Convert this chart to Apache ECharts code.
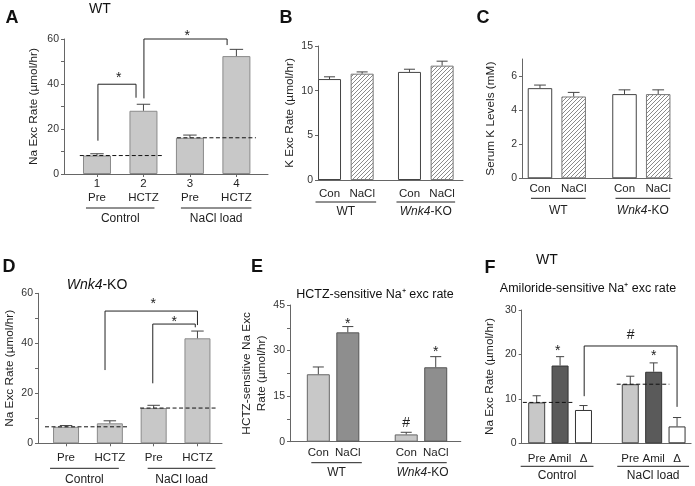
<!DOCTYPE html>
<html>
<head>
<meta charset="utf-8">
<script src="https://cdn.jsdelivr.net/npm/echarts@6.0.0/dist/echarts.min.js"></script>
<style>
  html, body { margin: 0; padding: 0; background: #fff; }
  #chart { width: 695px; height: 486px; }
</style>
</head>
<body>
<div id="chart"></div>
<script>
// A: WT, Na excretion
const aLabels = ['1\nPre', '2\nHCTZ', '3\nPre', '4\nHCTZ']
const aMean = [8.2, 28.1, 16.1, 52.4]
const aErr = [0.8, 2.9, 1.2, 3.0]
const aTicks = [0, 20, 40, 60]
// B: K excretion
const bLabels = ['Con', 'NaCl', 'Con', 'NaCl']
const bMean = [11.3, 11.9, 12.1, 12.8]
const bErr = [0.25, 0.2, 0.3, 0.5]
const bTicks = [0, 5, 10, 15]
// C: serum K
const cLabels = ['Con', 'NaCl', 'Con', 'NaCl']
const cMean = [5.29, 4.8, 4.94, 4.94]
const cErr = [0.18, 0.24, 0.25, 0.25]
const cTicks = [0, 2, 4, 6]
// D: Wnk4-KO, Na excretion
const dLabels = ['Pre', 'HCTZ', 'Pre', 'HCTZ']
const dMean = [6.6, 8.0, 14.1, 42.0]
const dErr = [0.5, 1.0, 1.1, 2.9]
const dTicks = [0, 20, 40, 60]
// E: HCTZ-sensitive
const eLabels = ['Con', 'NaCl', 'Con', 'NaCl']
const eMean = [22.2, 36.0, 2.4, 24.5]
const eErr = [2.4, 1.9, 0.7, 3.5]
const eTicks = [0, 15, 30, 45]
// F: amiloride-sensitive
const fLabels = ['Pre', 'Amil', 'Δ', 'Pre', 'Amil', 'Δ']
const fMean = [9.2, 17.5, 7.5, 13.3, 16.1, 3.8]
const fErr = [1.5, 2.0, 1.0, 1.8, 2.0, 2.0]
const fTicks = [0, 10, 20, 30]

const FONT = '"Liberation Sans", Arial, sans-serif'
const LIGHT = '#c8c8c8', MID = '#8e8e8e', DARK = '#5a5a5a'

function hatch() {
  const c = document.createElement('canvas')
  c.width = c.height = 4
  const g = c.getContext('2d')
  g.fillStyle = '#fff'
  g.fillRect(0, 0, 4, 4)
  g.strokeStyle = '#8a8a8a'
  g.lineWidth = 1
  g.beginPath()
  g.moveTo(0, 4); g.lineTo(4, 0)
  g.moveTo(-1, 1); g.lineTo(1, -1)
  g.moveTo(3, 5); g.lineTo(5, 3)
  g.stroke()
  return { image: c, repeat: 'repeat' }
}
const HATCH = hatch()

const white = { color: '#fff', borderColor: '#444' }
const hatched = { color: HATCH, borderColor: '#777' }
const greyA = { color: LIGHT, borderColor: '#8a8a8a' }

const panels = [
  { grid: { left: 64, top: 39, width: 204, height: 135 }, x: [0.29, 4.68], pos: [1, 2, 3, 4],
    labels: aLabels, mean: aMean, err: aErr, ticks: aTicks, marks: [0, 10, 20, 30, 40, 50, 60], yMax: 60,
    styles: [greyA, greyA, greyA, greyA], barW: 28, xTicks: true, labelMargin: 3,
    name: 'Na Exc Rate (µmol/hr)', nameGap: 23,
    groups: [{ name: 'Control', from: 1, to: 2, l: 11, r: 11 }, { name: 'NaCl load', from: 3, to: 4, l: 9, r: 15 }],
    ulOff: 34, txtOff: 45,
    dashed: [[0.63, 2.42, aMean[0]], [2.72, 4.42, aMean[2]]],
    brackets: [[1.02, 14.8, 1.84, 33.9, 39.9], [2.01, 33.6, 3.8, 57.3, 60]],
    signs: [[1.47, 44, '*'], [2.94, 62.7, '*']] },
  { grid: { left: 318, top: 46, width: 145, height: 134 }, x: [0.647, 5.09], pos: [1, 2, 3.45, 4.45],
    labels: bLabels, mean: bMean, err: bErr, ticks: bTicks, marks: bTicks, yMax: 15,
    styles: [white, hatched, white, hatched], barW: 23, labelMargin: 7,
    name: 'K Exc Rate (µmol/hr)', nameGap: 20,
    groups: [{ name: 'WT', from: 1, to: 2, l: 14, r: 14 }, { name: '{i|Wnk4}-KO', from: 3.45, to: 4.45, l: 13, r: 13 }],
    ulOff: 22, txtOff: 32 },
  { grid: { left: 522, top: 59, width: 150, height: 119.3 }, x: [0.466, 4.92], pos: [1, 2, 3.51, 4.51],
    labels: cLabels, mean: cMean, err: cErr, ticks: cTicks, marks: cTicks, yMax: 7,
    styles: [white, hatched, white, hatched], barW: 24.5, labelMargin: 4,
    name: 'Serum K Levels (mM)', nameGap: 24,
    groups: [{ name: 'WT', from: 1, to: 2, l: 9, r: 12 }, { name: '{i|Wnk4}-KO', from: 3.51, to: 4.51, l: 9, r: 12 }],
    ulOff: 20, txtOff: 32 },
  { grid: { left: 38, top: 293.3, width: 184, height: 150 }, x: [0.36, 4.56], pos: [1, 2, 3, 4],
    labels: dLabels, mean: dMean, err: dErr, ticks: dTicks, marks: [0, 10, 20, 30, 40, 50, 60], yMax: 60,
    styles: [greyA, greyA, greyA, greyA], barW: 26, xTicks: true, labelMargin: 8,
    name: 'Na Exc Rate (µmol/hr)', nameGap: 20,
    groups: [{ name: 'Control', from: 1, to: 2, l: 16, r: 9 }, { name: 'NaCl load', from: 3, to: 4, l: 6, r: 18 }],
    ulOff: 25, txtOff: 36,
    dashed: [[0.52, 2.42, dMean[0]], [2.69, 4.45, dMean[2]]],
    brackets: [[1.89, 29.3, 4.0, 47.3, 52.9], [2.98, 24, 3.95, 46.4, 47.7]],
    signs: [[2.99, 57, '*'], [3.47, 49.6, '*']] },
  { grid: { left: 290, top: 305, width: 170.8, height: 136.7 }, x: [0.04, 5.83], pos: [1, 2, 3.98, 4.98],
    labels: eLabels, mean: eMean, err: eErr, ticks: eTicks, marks: [0, 7.5, 15, 22.5, 30, 37.5, 45], yMax: 45,
    styles: [{ color: LIGHT, borderColor: '#666' }, { color: MID, borderColor: '#555' },
             { color: LIGHT, borderColor: '#666' }, { color: MID, borderColor: '#555' }],
    barW: 23, labelMargin: 4,
    name: 'HCTZ-sensitive Na Exc\nRate (µmol/hr)', nameGap: 20,
    groups: [{ name: 'WT', from: 1, to: 2, l: 7, r: 14 }, { name: '{i|Wnk4}-KO', from: 3.98, to: 4.98, l: 8, r: 11 }],
    ulOff: 21, txtOff: 31,
    signs: [[2, 39.7, '*'], [3.98, 6, '#'], [4.98, 30.4, '*']] },
  { grid: { left: 521.7, top: 310, width: 169.4, height: 133.3 }, x: [0.36, 7.6], pos: [1, 2, 3, 5, 6, 7],
    labels: fLabels, mean: fMean, err: fErr, ticks: fTicks, marks: fTicks, yMax: 30,
    styles: [{ color: LIGHT, borderColor: '#444' }, { color: DARK, borderColor: '#333' }, { color: '#fff', borderColor: '#333' },
             { color: LIGHT, borderColor: '#444' }, { color: DARK, borderColor: '#333' }, { color: '#fff', borderColor: '#333' }],
    barW: 17, labelMargin: 9,
    name: 'Na Exc Rate (µmol/hr)', nameGap: 24,
    groups: [{ name: 'Control', from: 1, to: 3, l: 16, r: 10 }, { name: 'NaCl load', from: 5, to: 7, l: 13, r: 12 }],
    ulOff: 23, txtOff: 32,
    dashed: [[0.41, 2.59, fMean[0]], [4.42, 6.67, fMean[3]]],
    brackets: [[3.03, 10.6, 7.0, 8.2, 21.9]],
    signs: [[1.9, 21.5, '*'], [5.02, 24.4, '#'], [6, 20.25, '*']] }
]

const grid = [], xAxis = [], yAxis = [], series = []
const rich = { i: { fontStyle: 'italic', fontFamily: FONT, fontSize: 12, fill: '#222' } }

panels.forEach((p, gi) => {
  grid.push(p.grid)
  xAxis.push({
    type: 'value', gridIndex: gi, min: p.x[0], max: p.x[1], splitLine: { show: false },
    axisLine: { lineStyle: { color: '#666' } },
    axisTick: { show: !!p.xTicks, customValues: p.pos, length: 3, lineStyle: { color: '#666' } },
    axisLabel: {
      customValues: p.pos, margin: p.labelMargin, fontFamily: FONT, fontSize: 11.5, color: '#222', lineHeight: 14,
      formatter: v => p.labels[p.pos.indexOf(v)] || ''
    }
  })
  yAxis.push({
    type: 'value', gridIndex: gi, min: 0, max: p.yMax, splitLine: { show: false },
    axisLine: { show: true, lineStyle: { color: '#666' } },
    axisTick: { customValues: p.marks, length: 3, lineStyle: { color: '#666' } },
    axisLabel: { customValues: p.ticks, margin: 5, fontFamily: FONT, fontSize: 10.5, color: '#333' },
    name: p.name, nameLocation: 'middle', nameGap: p.nameGap,
    nameTextStyle: { fontFamily: FONT, fontSize: 11.8, color: '#222', lineHeight: 15 }
  })
  series.push({
    type: 'bar', xAxisIndex: gi, yAxisIndex: gi, barWidth: p.barW, silent: true,
    data: p.mean.map((m, i) => ({ value: [p.pos[i], m], itemStyle: Object.assign({ borderWidth: 1 }, p.styles[i]) }))
  })
  // error bars
  series.push({
    type: 'custom', xAxisIndex: gi, yAxisIndex: gi, silent: true, z: 3,
    data: p.mean.map((m, i) => [p.pos[i], m, m + p.err[i]]),
    encode: { x: 0, y: [1, 2] },
    renderItem(params, api) {
      const a = api.coord([api.value(0), api.value(1)])
      const b = api.coord([api.value(0), api.value(2)])
      const w = p.barW * 0.24
      const st = { stroke: '#444', lineWidth: 1 }
      return { type: 'group', children: [
        { type: 'line', shape: { x1: a[0], y1: a[1], x2: b[0], y2: b[1] }, style: st },
        { type: 'line', shape: { x1: b[0] - w, y1: b[1], x2: b[0] + w, y2: b[1] }, style: st }
      ] }
    }
  })
  // group underline + label
  series.push({
    type: 'custom', xAxisIndex: gi, yAxisIndex: gi, silent: true,
    data: p.groups.map(g => [g.from, g.to]),
    encode: { x: [0, 1] },
    renderItem(params, api) {
      const g = p.groups[params.dataIndex]
      const a = api.coord([api.value(0), 0]), b = api.coord([api.value(1), 0])
      const x1 = a[0] - g.l, x2 = b[0] + g.r
      return { type: 'group', children: [
        { type: 'line', shape: { x1: x1, y1: a[1] + p.ulOff, x2: x2, y2: a[1] + p.ulOff }, style: { stroke: '#222', lineWidth: 1 } },
        { type: 'text', x: (x1 + x2) / 2, y: a[1] + p.txtOff,
          style: { text: g.name, rich: rich, align: 'center', verticalAlign: 'middle', fontFamily: FONT, fontSize: 12, fill: '#222' } }
      ] }
    }
  })
  if (p.dashed) {
    series.push({
      type: 'custom', xAxisIndex: gi, yAxisIndex: gi, silent: true, z: 4,
      data: p.dashed, encode: { x: [0, 1], y: 2 },
      renderItem(params, api) {
        const a = api.coord([api.value(0), api.value(2)]), b = api.coord([api.value(1), api.value(2)])
        return { type: 'line', shape: { x1: a[0], y1: a[1], x2: b[0], y2: b[1] },
          style: { stroke: '#111', lineWidth: 1, lineDash: [4, 2.5] } }
      }
    })
  }
  if (p.brackets) {
    series.push({
      type: 'custom', xAxisIndex: gi, yAxisIndex: gi, silent: true,
      data: p.brackets, encode: { x: [0, 2], y: [1, 3, 4] },
      renderItem(params, api) {
        const x1 = api.value(0), y1 = api.value(1), x2 = api.value(2), y2 = api.value(3), top = api.value(4)
        return { type: 'polyline',
          shape: { points: [api.coord([x1, y1]), api.coord([x1, top]), api.coord([x2, top]), api.coord([x2, y2])] },
          style: { stroke: '#222', lineWidth: 1, fill: null } }
      }
    })
  }
  if (p.signs) {
    series.push({
      type: 'custom', xAxisIndex: gi, yAxisIndex: gi, silent: true,
      data: p.signs.map(s => [s[0], s[1]]), encode: { x: 0, y: 1 },
      renderItem(params, api) {
        const c = api.coord([api.value(0), api.value(1)])
        const s = p.signs[params.dataIndex][2]
        return { type: 'text', x: c[0], y: c[1] + (s === '*' ? 3 : 0),
          style: { text: s, align: 'center', verticalAlign: 'middle', fontFamily: FONT, fontSize: 14, fill: '#222' } }
      }
    })
  }
})

const txt = (text, x, y, size, bold, extra) => ({
  type: 'text', x: x, y: y,
  style: Object.assign({ text: text, align: 'center', verticalAlign: 'middle', fontFamily: FONT,
    fontSize: size, fontWeight: bold ? 'bold' : 'normal', fill: '#111' }, extra || {})
})
const graphic = [
  txt('A', 12, 18, 18, true), txt('B', 286, 18, 18, true), txt('C', 483, 18, 18, true),
  txt('D', 9, 267, 18, true), txt('E', 257, 267, 18, true), txt('F', 490, 268, 18, true),
  txt('WT', 100, 9, 14), txt('WT', 547, 260, 14),
  txt('{i|Wnk4}-KO', 97, 285, 14, false, { rich: { i: { fontStyle: 'italic', fontFamily: FONT, fontSize: 14, fill: '#111' } } }),
  txt('HCTZ-sensitive Na⁺ exc rate', 375, 295, 12.5),
  txt('Amiloride-sensitive Na⁺ exc rate', 588, 289, 12.5)
]

const chart = echarts.init(document.getElementById('chart'))
chart.setOption({
  animation: false,
  backgroundColor: '#fff',
  textStyle: { fontFamily: FONT },
  grid: grid,
  xAxis: xAxis,
  yAxis: yAxis,
  series: series,
  graphic: graphic
})
</script>
</body>
</html>
